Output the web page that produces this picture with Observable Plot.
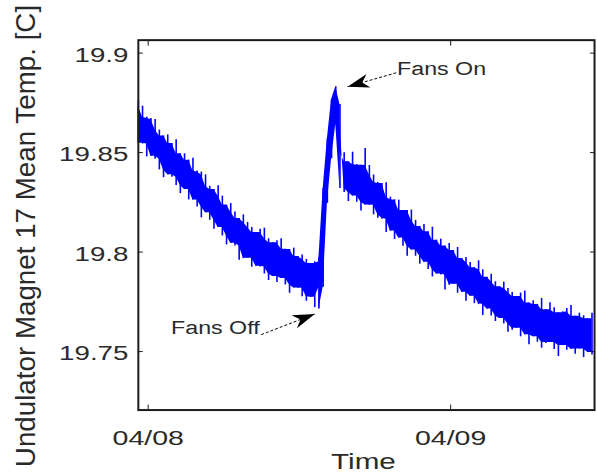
<!DOCTYPE html>
<html>
<head>
<meta charset="utf-8">
<script src="https://cdn.jsdelivr.net/npm/d3@7"></script>
<script src="https://cdn.jsdelivr.net/npm/@observablehq/plot@0.6"></script>
<style>
  html, body { margin: 0; padding: 0; background: #fff; overflow: hidden; }
</style>
</head>
<body>
<div id="chart"></div>
<script>
// ---- data ----
const sampleStart = "2008-04-07T23:13:00Z";   // first sample
const sampleStepMinutes = 20;                  // sampling interval

// upper / lower envelope of the noisy temperature trace, one pair per sample
const upper = [
  19.876, 19.8733, 19.8678, 19.8671, 19.8666, 19.8613, 19.8584, 19.8589, 19.8546, 19.8564,
  19.8494, 19.8494, 19.8462, 19.8472, 19.8407, 19.8402, 19.8388, 19.8330, 19.8315, 19.8333,
  19.8281, 19.8236, 19.8244, 19.8201, 19.8169, 19.8187, 19.8149, 19.8124, 19.8099, 19.8115,
  19.8120, 19.8067, 19.8047, 19.8057, 19.8067, 19.8015, 19.8013, 19.8020, 19.7978, 19.7985,
  19.7963, 19.7943, 19.7951, 19.7972, 19.8320, 19.8568, 19.8767, 19.8831, 19.8742, 19.8499,
  19.8454, 19.8502, 19.8440, 19.8437, 19.852, 19.8435, 19.8387, 19.8350, 19.8345, 19.8348,
  19.8276, 19.8263, 19.8261, 19.8209, 19.8209, 19.8211, 19.8159, 19.8129, 19.8139, 19.8102,
  19.8125, 19.8060, 19.8065, 19.8030, 19.8043, 19.8008, 19.8023, 19.7968, 19.7973, 19.7948,
  19.7921, 19.7956, 19.7911, 19.7874, 19.7889, 19.7851, 19.7826, 19.7849, 19.7817, 19.7797,
  19.7777, 19.7794, 19.7804, 19.7744, 19.7755, 19.7737, 19.7767, 19.7710, 19.7745, 19.7720,
  19.7695, 19.7700, 19.7717, 19.7732, 19.7677, 19.7693, 19.7680, 19.7665, 19.7693
];
const lower = [
  19.8547, 19.8543, 19.8478, 19.8481, 19.8466, 19.8413, 19.8374, 19.8389, 19.8376, 19.8334,
  19.8294, 19.8314, 19.8262, 19.8262, 19.8227, 19.8172, 19.8198, 19.8160, 19.8115, 19.8123,
  19.8081, 19.8036, 19.8044, 19.8031, 19.7959, 19.7967, 19.7969, 19.7924, 19.7929, 19.7925,
  19.7890, 19.7857, 19.7877, 19.7847, 19.7867, 19.7835, 19.7793, 19.7820, 19.7818, 19.7775,
  19.7753, 19.7773, 19.7721, 19.7714, 19.7823, 19.8245, 19.8469, 19.8643, 19.8320, 19.8299,
  19.8254, 19.8282, 19.8250, 19.8207, 19.8237, 19.8235, 19.8187, 19.8170, 19.8165, 19.8098,
  19.8106, 19.8063, 19.8071, 19.8029, 19.7979, 19.8011, 19.7979, 19.7939, 19.7949, 19.7912,
  19.7875, 19.7890, 19.7885, 19.7810, 19.7833, 19.7838, 19.7793, 19.7798, 19.7753, 19.7778,
  19.7741, 19.7736, 19.7681, 19.7714, 19.7679, 19.7651, 19.7666, 19.7639, 19.7597, 19.7607,
  19.7617, 19.7574, 19.7584, 19.7534, 19.7575, 19.7547, 19.7517, 19.7540, 19.7545, 19.7510,
  19.7475, 19.7530, 19.7507, 19.7512, 19.7487, 19.7513, 19.7470, 19.7495, 19.7483
];

// the fast warm-up after the fans were switched on
const riseWindow = ["2008-04-08T13:33:00Z", "2008-04-08T15:13:00Z"];

const xTicks = ["2008-04-08T00:00:00Z", "2008-04-09T00:00:00Z"];
const xTickLabels = ["04/08", "04/09"];
const yTicks = [19.75, 19.8, 19.85, 19.9];
const yTickLabels = ["19.75", "19.8", "19.85", "19.9"];
const xLabel = "Time";
const yLabel = "Undulator Magnet 17 Mean Temp. [C]";

const annLabels = ["Fans On", "Fans Off"];
const annTextTime = ["2008-04-08T19:45:00Z", "2008-04-08T01:49:00Z"];
const annTextValue = [19.8918, 19.7617];
const arrowFromTime = ["2008-04-08T19:41:00Z", "2008-04-08T08:58:00Z"];
const arrowFromValue = [19.8901, 19.7585];
const arrowToTime = ["2008-04-08T15:49:00Z", "2008-04-08T13:13:00Z"];
const arrowToValue = [19.8831, 19.7689];

// ---- tables built from the arrays ----
const t0 = new Date(sampleStart).getTime();
const series = upper.map((hi, i) => ({
  t: new Date(t0 + i * sampleStepMinutes * 60000),
  hi,
  lo: lower[i]
}));
const riseStart = new Date(riseWindow[0]), riseEnd = new Date(riseWindow[1]);
const xTickDates = xTicks.map(d => new Date(d));
const annotations = annLabels.map((label, i) => ({
  label,
  tx: new Date(annTextTime[i]), ty: annTextValue[i],
  x1: new Date(arrowFromTime[i]), y1: arrowFromValue[i],
  x2: new Date(arrowToTime[i]), y2: arrowToValue[i]
}));

const ink = "#1a1a1a";
const textInk = "#2a2a2a";
const blue = "#0000ff";
const svg = Plot.plot({
  width: 602,
  height: 474,
  marginLeft: 139,
  marginRight: 3,
  marginTop: 40,
  marginBottom: 61,
  style: {fontFamily: '"Liberation Sans", Arial, Helvetica, sans-serif', fontSize: "21px", color: ink, background: "#fff", overflow: "visible"},
  x: {type: "utc", domain: [new Date("2008-04-07T23:13:00Z"), new Date("2008-04-09T11:25:00Z")], axis: null},
  y: {domain: [19.7206, 19.9065], axis: null},
  marks: [
    // solid core of the noisy trace (inner envelope) + thin spikes to the extremes
    Plot.areaY(series, Plot.map(
      {y1: Plot.window({k: 3, reduce: "max"}), y2: Plot.window({k: 3, reduce: "min"})},
      {x: "t", y1: "lo", y2: "hi", curve: "linear", fill: blue})),
    // the steep rise is drawn with its full extent
    Plot.areaY(series, {filter: d => d.t >= riseStart && d.t <= riseEnd, x: "t", y1: "lo", y2: "hi", curve: "linear", fill: blue}),
    Plot.ruleX(series, {x: "t", y1: "lo", y2: "hi", stroke: blue, strokeWidth: 1.6}),
    Plot.frame({stroke: ink, strokeWidth: 2}),
    // tick labels
    Plot.axisX(xTickDates, {anchor: "bottom", tickSize: 0, tickPadding: 20, label: null, fontSize: 21, fill: textInk,
      tickFormat: d => xTickLabels[xTickDates.findIndex(t => +t === +d)]}),
    Plot.axisY(yTicks, {anchor: "left", tickSize: 0, tickPadding: 10, label: null, fontSize: 21, dy: 2, fill: textInk,
      tickFormat: d => yTickLabels[yTicks.indexOf(d)]}),
    // inward tick marks on all four sides
    Plot.axisX(xTickDates, {anchor: "bottom", tickSize: 5, dy: -5, fill: "none", label: null, stroke: ink}),
    Plot.axisX(xTickDates, {anchor: "top", tickSize: 5, dy: 5, fill: "none", label: null, stroke: ink}),
    Plot.axisY(yTicks, {anchor: "left", tickSize: 5, dx: 5, fill: "none", label: null, stroke: ink}),
    Plot.axisY(yTicks, {anchor: "right", tickSize: 5, dx: -5, fill: "none", label: null, stroke: ink}),
    // axis titles
    Plot.text([xLabel], {text: d => d, frameAnchor: "bottom", textAnchor: "middle", dy: 59, dx: -3, fontSize: 23, fill: textInk}),
    Plot.text([yLabel], {text: d => d, frameAnchor: "left", textAnchor: "middle", dx: -113, dy: 11, rotate: -90, fontSize: 28, fill: textInk}),
    // annotations
    Plot.link(annotations, {x1: "x1", y1: "y1", x2: "x2", y2: "y2", stroke: "#000", strokeWidth: 1, strokeDasharray: "3,2"}),
    Plot.text(annotations, {x: "tx", y: "ty", text: "label", textAnchor: "start", fontSize: 18, fill: textInk})
  ]
});

// filled arrow heads
const ns = "http://www.w3.org/2000/svg";
const defs = document.createElementNS(ns, "defs");
const marker = document.createElementNS(ns, "marker");
marker.setAttribute("id", "arrowhead");
marker.setAttribute("viewBox", "0 0 10 10");
marker.setAttribute("refX", "10");
marker.setAttribute("refY", "5");
marker.setAttribute("markerWidth", "22");
marker.setAttribute("markerHeight", "14");
marker.setAttribute("markerUnits", "userSpaceOnUse");
marker.setAttribute("orient", "auto");
marker.setAttribute("preserveAspectRatio", "none");
const head = document.createElementNS(ns, "path");
head.setAttribute("d", "M0,0L10,5L0,10L3,5Z");
head.setAttribute("fill", "#000");
head.setAttribute("stroke", "none");
marker.appendChild(head);
defs.appendChild(marker);
svg.insertBefore(defs, svg.firstChild);
svg.querySelectorAll('g[aria-label="link"] path').forEach(p => p.setAttribute("marker-end", "url(#arrowhead)"));

// the reference's lettering is horizontally stretched
function stretchAll(nodes, k) {
  nodes.forEach(t => {
    const tr = t.getAttribute("transform") || "";
    const x = +(t.getAttribute("x") || 0);
    const s = `translate(${x},0) scale(${k},1) translate(${-x},0)`;
    if (tr.includes("rotate(")) t.setAttribute("transform", tr.replace("rotate(", `${s} rotate(`));
    else t.setAttribute("transform", `${tr} ${s}`);
  });
}
stretchAll(svg.querySelectorAll('g[aria-label="x-axis tick label"] text'), 1.37);
stretchAll(svg.querySelectorAll('g[aria-label="y-axis tick label"] text'), 1.33);
const textGroups = svg.querySelectorAll('g[aria-label="text"]');
if (textGroups[0]) stretchAll(textGroups[0].querySelectorAll("text"), 1.3);   // x title
if (textGroups[2]) stretchAll(textGroups[2].querySelectorAll("text"), 1.3);   // annotations

document.getElementById("chart").appendChild(svg);
</script>
</body>
</html>
